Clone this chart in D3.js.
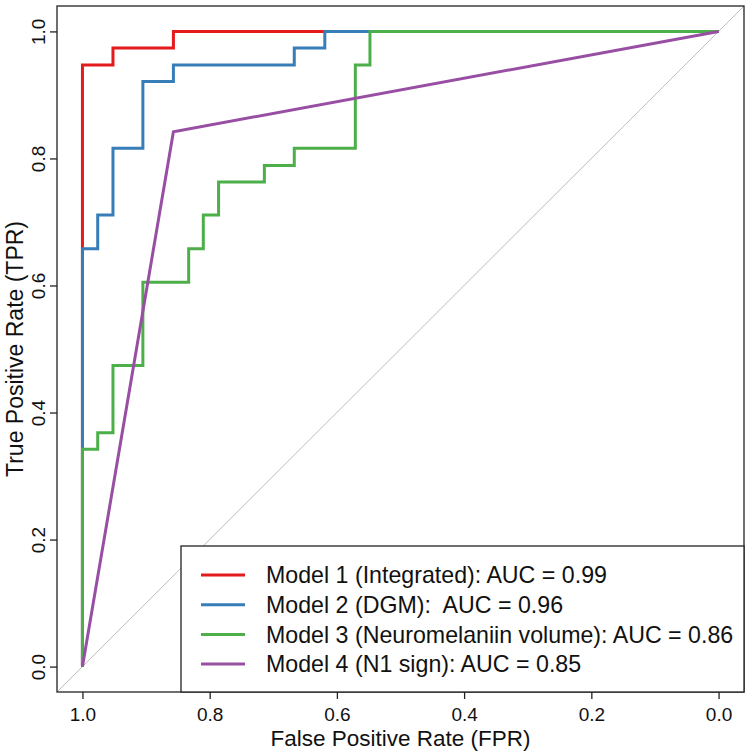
<!DOCTYPE html>
<html>
<head>
<meta charset="utf-8">
<script src="https://cdn.jsdelivr.net/npm/d3@7"></script>
<style>
  body { margin: 0; background: #fff; }
  svg { font-family: "Liberation Sans", Arial, sans-serif; }
</style>
</head>
<body>
<div id="chart"></div>
<script>
// ROC corner points: specificity (x, reversed) and sensitivity (y)
const modelNames = [
  "Model 1 (Integrated): AUC = 0.99",
  "Model 2 (DGM):  AUC = 0.96",
  "Model 3 (Neuromelaniin volume): AUC = 0.86",
  "Model 4 (N1 sign): AUC = 0.85",
]
const modelColors = ["#e41a1c", "#377eb8", "#4daf4a", "#984ea3"]
const modelCurves = ["step", "step", "step", "linear"]

const spec1 = [1, 1, 0.952, 0.857, 0]
const sens1 = [0, 0.947, 0.974, 1, 1]

const spec2 = [1, 1, 0.976, 0.952, 0.905, 0.857, 0.667, 0.619, 0]
const sens2 = [0, 0.658, 0.711, 0.816, 0.921, 0.947, 0.974, 1, 1]

const spec3 = [1, 1, 0.976, 0.952, 0.905, 0.833, 0.81, 0.786, 0.714, 0.667, 0.571, 0.548, 0]
const sens3 = [0, 0.342, 0.368, 0.474, 0.605, 0.658, 0.711, 0.763, 0.789, 0.816, 0.947, 1, 1]

const spec4 = [1, 0.857, 0]
const sens4 = [0, 0.842, 1]

const xTicks = [1.0, 0.8, 0.6, 0.4, 0.2, 0.0]
const yTicks = [0.0, 0.2, 0.4, 0.6, 0.8, 1.0]

const width = 751
const height = 752
const box = { left: 57, right: 744, top: 6, bottom: 692 }

const svg = d3.select("#chart")
  .append("svg")
  .attr("width", width)
  .attr("height", height)

const x = d3.scaleLinear().domain([1.04, -0.04]).range([box.left, box.right])
const y = d3.scaleLinear().domain([-0.04, 1.04]).range([box.bottom, box.top])

// chance diagonal, corner to corner
svg.append("clipPath").attr("id", "plot-clip")
  .append("rect")
  .attr("x", box.left).attr("y", box.top)
  .attr("width", box.right - box.left).attr("height", box.bottom - box.top)

svg.append("line")
  .attr("clip-path", "url(#plot-clip)")
  .attr("x1", x(1.04)).attr("y1", y(-0.04))
  .attr("x2", x(-0.04)).attr("y2", y(1.04))
  .attr("stroke", "#bdbdbd")
  .attr("stroke-width", 1)

const specs = [spec1, spec2, spec3, spec4]
const senss = [sens1, sens2, sens3, sens4]

specs.forEach((spec, i) => {
  const pts = spec.map((s, j) => [s, senss[i][j]])
  const line = d3.line()
    .x((d) => x(d[0]))
    .y((d) => y(d[1]))
    .curve(modelCurves[i] === "step" ? d3.curveStepAfter : d3.curveLinear)

  svg.append("path")
    .datum(pts)
    .attr("fill", "none")
    .attr("stroke", modelColors[i])
    .attr("stroke-width", 3)
    .attr("stroke-linejoin", "miter")
    .attr("d", line)
})

// plot frame
svg.append("rect")
  .attr("x", box.left).attr("y", box.top)
  .attr("width", box.right - box.left).attr("height", box.bottom - box.top)
  .attr("fill", "none")
  .attr("stroke", "#222")
  .attr("stroke-width", 1.3)

// axes
const xAxis = svg.append("g")
  .attr("transform", `translate(0, ${box.bottom})`)
  .call(d3.axisBottom(x).tickValues(xTicks).tickFormat(d3.format(".1f")).tickSize(7).tickPadding(9))
xAxis.select(".domain").remove()
xAxis.selectAll(".tick line").attr("stroke", "#222").attr("stroke-width", 1.3)
xAxis.selectAll(".tick text").attr("font-size", 19).attr("fill", "#111")
  .attr("font-family", "Liberation Sans, Arial, sans-serif")

const yAxis = svg.append("g")
  .attr("transform", `translate(${box.left}, 0)`)
  .call(d3.axisLeft(y).tickValues(yTicks).tickFormat(d3.format(".1f")).tickSize(7))
yAxis.select(".domain").remove()
yAxis.selectAll(".tick line").attr("stroke", "#222").attr("stroke-width", 1.3)
yAxis.selectAll(".tick text")
  .attr("font-size", 19).attr("fill", "#111")
  .attr("font-family", "Liberation Sans, Arial, sans-serif")
  .attr("x", null).attr("dy", null)
  .attr("text-anchor", "middle")
  .attr("transform", "translate(-12, 0) rotate(-90)")

svg.append("text")
  .attr("x", (x(1) + x(0)) / 2)
  .attr("y", 746)
  .attr("text-anchor", "middle")
  .attr("font-size", 22.5)
  .attr("fill", "#111")
  .text("False Positive Rate (FPR)")

svg.append("text")
  .attr("transform", `translate(23, ${(y(0) + y(1)) / 2}) rotate(-90)`)
  .attr("text-anchor", "middle")
  .attr("font-size", 23)
  .attr("fill", "#111")
  .text("True Positive Rate (TPR)")

// legend
svg.append("rect")
  .attr("x", 181).attr("y", 546)
  .attr("width", box.right - 181).attr("height", box.bottom - 546)
  .attr("fill", "#fff")
  .attr("stroke", "#222")
  .attr("stroke-width", 1.3)
const legend = svg.append("g")

modelNames.forEach((name, i) => {
  const ly = 575 + i * 29.7
  legend.append("line")
    .attr("x1", 201).attr("x2", 245)
    .attr("y1", ly).attr("y2", ly)
    .attr("stroke", modelColors[i])
    .attr("stroke-width", 3)
  legend.append("text")
    .attr("x", 266).attr("y", ly)
    .attr("dy", "0.35em")
    .attr("font-size", 23.2)
    .attr("fill", "#111")
    .style("white-space", "pre")
    .text(name)
})
</script>
</body>
</html>
